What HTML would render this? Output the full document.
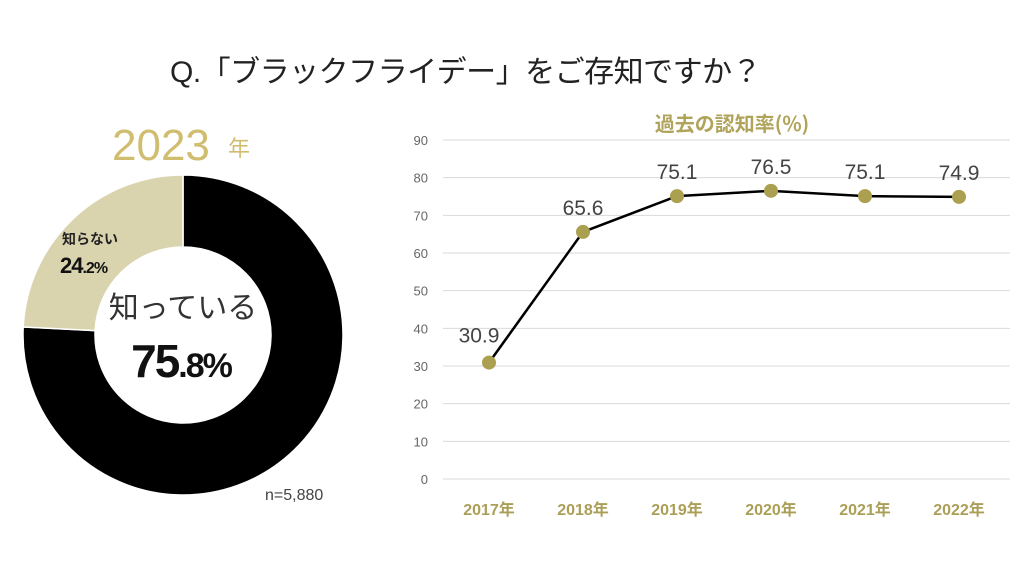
<!DOCTYPE html>
<html><head><meta charset="utf-8"><style>
body{margin:0;width:1028px;height:578px;background:#fff;overflow:hidden;font-family:"Liberation Sans","Noto Sans CJK JP",sans-serif;}
</style></head><body>
<svg width="1028" height="578">
<text x="170" y="82" font-size="30" fill="#222" letter-spacing="-0.5" font-family="Liberation Sans, Noto Sans CJK JP, sans-serif">Q.「ブラックフライデー」をご存知ですか？</text>
<text x="112" y="160" font-size="44" fill="#d0bd70">2023</text>
<text x="228" y="156" font-size="22" fill="#d0bd70" font-family="Noto Sans CJK JP, sans-serif">年</text>
<g id="donut"></g>
<text x="183" y="318" font-size="30" fill="#333" text-anchor="middle" font-family="Noto Sans CJK JP, sans-serif">知っている</text>
<text x="181" y="377" font-size="46" font-weight="bold" fill="#111" text-anchor="middle" letter-spacing="-2">75<tspan font-size="34">.8%</tspan></text>
<text x="62" y="244" font-size="14" font-weight="bold" fill="#222" font-family="Noto Sans CJK JP, sans-serif">知らない</text>
<text x="60" y="273" font-size="22" font-weight="bold" fill="#111" letter-spacing="-1">24<tspan font-size="16">.2%</tspan></text>
<text x="265" y="500" font-size="16" fill="#444">n=5,880</text>
<text x="732" y="131" font-size="20" font-weight="bold" fill="#b0a35a" text-anchor="middle" font-family="Noto Sans CJK JP, sans-serif">過去の認知率(%)</text>
<g id="grid"></g><g id="line"></g>
</svg>
<script>
const donutLabels=["知っている","知らない"];
const donutValues=[75.8,24.2];
const years=["2017年","2018年","2019年","2020年","2021年","2022年"];
const rates=[30.9,65.6,75.1,76.5,75.1,74.9];
const yTicks=[0,10,20,30,40,50,60,70,80,90];
const NS="http://www.w3.org/2000/svg";
function mk(t,a,p){const e=document.createElementNS(NS,t);for(const k in a)e.setAttribute(k,a[k]);p.appendChild(e);return e;}
const cx=183,cy=335,R=160,r=88,dg=document.getElementById('donut');
const donutColors=["#000","#d9d3ae"];
let tot=donutValues.reduce((a,b)=>a+b,0),acc=0;
donutValues.forEach((v,i)=>{
 const a0=acc/tot*2*Math.PI,a1=(acc+v)/tot*2*Math.PI;acc+=v;
 const P=(rr,a)=>[cx+rr*Math.sin(a),cy-rr*Math.cos(a)];
 const lg=(a1-a0)>Math.PI?1:0;
 const [x0,y0]=P(R,a0),[x1,y1]=P(R,a1),[x2,y2]=P(r,a1),[x3,y3]=P(r,a0);
 const p=mk('path',{d:`M${x0},${y0}A${R},${R} 0 ${lg} 1 ${x1},${y1}L${x2},${y2}A${r},${r} 0 ${lg} 0 ${x3},${y3}Z`,fill:donutColors[i],stroke:'#fff','stroke-width':1.5},dg);
 
 
});
const x0=443,x1=1010,yBase=479,yTop=140;
const ys=v=>yBase-(v/90)*(yBase-yTop);
const step=94, firstX=489;
const xs=i=>firstX+i*step;
const gg=document.getElementById('grid'),lg=document.getElementById('line');
yTicks.forEach(t=>{
 const l=mk('line',{x1:x0,x2:x1,y1:ys(t),y2:ys(t),stroke:'#d9d9d9','stroke-width':1},gg);
 
 
 const tx=mk('text',{x:428,y:ys(t)+5,'font-size':13,fill:'#666','text-anchor':'end'},gg);tx.textContent=t;
 
 
});
years.forEach((y,i)=>{
 const tx=mk('text',{x:xs(i),y:515,'font-size':16,'font-weight':'bold',fill:'#ab9f58','text-anchor':'middle','font-family':'Liberation Sans, Noto Sans CJK JP, sans-serif'},gg);tx.textContent=y;
 
 
});
const pl=mk('polyline',{points:rates.map((v,i)=>xs(i)+','+ys(v)).join(' '),fill:'none',stroke:'#000','stroke-width':2.5},lg);


rates.forEach((v,i)=>{
 const c=mk('circle',{cx:xs(i),cy:ys(v),r:7,fill:'#ab9f50'},lg);
 
 
 const lx=i===0?xs(i)-10:xs(i),ly=i===0?ys(v)-20:ys(v)-17;
 const t=mk('text',{x:lx,y:ly,'font-size':21,fill:'#444','text-anchor':'middle'},lg);t.textContent=v.toFixed(1);
 
 
});
</script>
</body></html>
